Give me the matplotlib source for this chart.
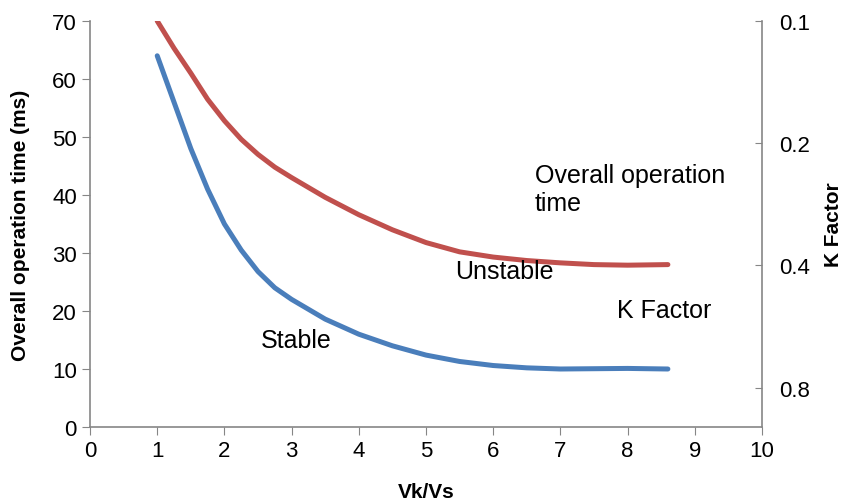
import matplotlib
matplotlib.use("Agg")
import matplotlib.pyplot as plt
from matplotlib.ticker import FixedLocator, FixedFormatter, NullLocator

plt.rcParams['font.family'] = ['Liberation Sans', 'DejaVu Sans']

# data
vk_vs = [1, 1.25, 1.5, 1.75, 2, 2.25, 2.5, 2.75, 3, 3.5, 4, 4.5, 5, 5.5, 6, 6.5, 7, 7.5, 8, 8.6]
stable = [64, 56, 48, 41, 35, 30.5, 26.8, 24, 22, 18.6, 16, 14, 12.4, 11.3, 10.6, 10.2, 10, 10.05, 10.1, 10]
unstable = [70, 65.3, 61, 56.5, 52.8, 49.6, 47, 44.8, 43, 39.6, 36.6, 34, 31.8, 30.2, 29.3, 28.7, 28.3, 28, 27.9, 28]
k_ticks = [0.1, 0.2, 0.4, 0.8]
k_labels = ["0.1", "0.2", "0.4", "0.8"]

grey = "#868686"
red = "#C0504D"
blue = "#4A7EBB"

fig = plt.figure(figsize=(8.47, 5.02), dpi=100)
ax = fig.add_axes([0.1063, 0.1474, 0.7933, 0.8088])

ax.plot(vk_vs, unstable, color=red, lw=3.6, solid_capstyle='round', solid_joinstyle='round')
ax.plot(vk_vs, stable, color=blue, lw=3.6, solid_capstyle='round', solid_joinstyle='round')

ax.set_xlim(0, 10)
ax.set_ylim(0, 70)
ax.set_xticks(range(0, 11))
ax.set_yticks(range(0, 71, 10))
ax.tick_params(axis='both', labelsize=16, color=grey, length=6, direction='out')
ax.spines['top'].set_visible(False)
ax.spines['right'].set_visible(False)
for s in ['left', 'bottom']:
    ax.spines[s].set_color(grey)
    ax.spines[s].set_linewidth(1.2)

ax.set_xlabel("Vk/Vs", fontsize=15, fontweight='bold')
ax.set_ylabel("Overall operation time (ms)", fontsize=15, fontweight='bold')
ax.xaxis.set_label_coords(0.5, -0.136)
ax.yaxis.set_label_coords(-0.089, 0.5)

# right axis: K factor, log scale, inverted
ax2 = ax.twinx()
ax2.set_yscale('log')
ax2.set_ylim(1.0, 0.1)
ax2.yaxis.set_major_locator(FixedLocator(k_ticks))
ax2.yaxis.set_major_formatter(FixedFormatter(k_labels))
ax2.yaxis.set_minor_locator(NullLocator())
ax2.tick_params(axis='y', labelsize=16, color=grey, length=5, direction='in', pad=12)
ax2.spines['top'].set_visible(False)
ax2.spines['left'].set_visible(False)
ax2.spines['bottom'].set_visible(False)
ax2.spines['right'].set_color(grey)
ax2.spines['right'].set_linewidth(1.2)
ax2.set_ylabel("K Factor", fontsize=15, fontweight='bold')
ax2.yaxis.set_label_coords(1.092, 0.5)

# annotations
ax.text(2.54, 15, "Stable", fontsize=18, va='center')
ax.text(5.43, 26.9, "Unstable", fontsize=18, va='center')
ax.text(7.84, 20.2, "K Factor", fontsize=18, va='center')
ax.text(6.62, 41.0, "Overall operation\ntime", fontsize=18, va='center', linespacing=1.2)

fig.savefig("out.png", dpi=100)
